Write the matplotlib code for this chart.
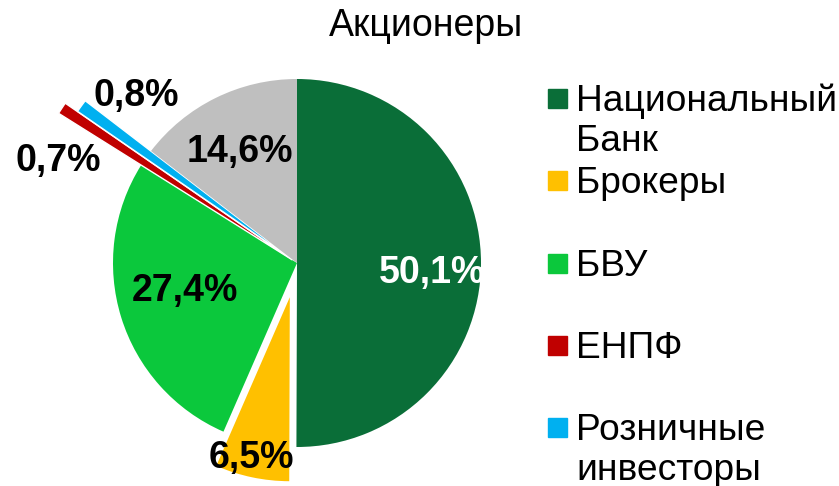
import numpy as np
import matplotlib.pyplot as plt
from matplotlib.patches import Rectangle

plt.rcParams['font.family'] = ['Liberation Sans', 'DejaVu Sans']

title = 'Акционеры'
labels = ['Национальный\nБанк', 'Брокеры', 'БВУ', 'ЕНПФ', 'Розничные\nинвесторы', '']
shares = [50.1, 6.5, 27.4, 0.7, 0.8, 14.6]
pct_text = ['50,1%', '6,5%', '27,4%', '0,7%', '0,8%', '14,6%']
colors = ['#0A6E38', '#FFC000', '#0BC83C', '#C00000', '#00B0F0', '#BFBFBF']

explode = [0, 0.19, 0, 0.03, 0.03, 0]
radius = [1, 1, 1, 1.50, 1.42, 1]
# label placement: distance from pie centre and angle nudge (deg)
label_r = [0.733, 1.089, 0.626, 1.409, 1.259, 0.678]
label_dang = [-4.1, -1.2, -3.3, 10.3, -10.1, 0.9]
label_color = ['white', 'black', 'black', 'black', 'black', 'black']

W, H = 839, 486
cx, cy, R = 297, 263, 184

fig = plt.figure(figsize=(W / 100, H / 100), dpi=100)
ax = fig.add_axes([0, 0, 1, 1])

wedges, _ = ax.pie(shares, colors=colors, startangle=90, counterclock=False,
                   explode=explode, radius=1)
for w, r in zip(wedges, radius):
    w.set_radius(r)
    if r > 1:
        w.set_edgecolor('white')
        w.set_linewidth(1)

for w, txt, lr, da, col in zip(wedges, pct_text, label_r, label_dang, label_color):
    mid = np.deg2rad((w.theta1 + w.theta2) / 2 + da)
    ax.text(lr * np.cos(mid), lr * np.sin(mid), txt, ha='center', va='center',
            fontsize=27, fontweight='bold', color=col)

ax.set_xlim(-cx / R, (W - cx) / R)
ax.set_ylim(-(H - cy) / R, cy / R)
ax.axis('off')

fig.text(426 / W, 1 - 26 / H, title, ha='center', va='center', fontsize=27)

# legend
y0, step, line_h = 98.5, 82.25, 40
for i, (lab, col) in enumerate(zip(labels[:5], colors[:5])):
    yc = y0 + i * step
    fig.add_artist(Rectangle((548 / W, 1 - (yc + 9.5) / H), 19 / W, 19 / H,
                             transform=fig.transFigure, color=col))
    for j, line in enumerate(lab.split('\n')):
        fig.text(576 / W, 1 - (yc + 12.5 + j * line_h) / H, line, ha='left',
                 va='baseline', fontsize=26.7)

fig.savefig('out.png', dpi=100)
